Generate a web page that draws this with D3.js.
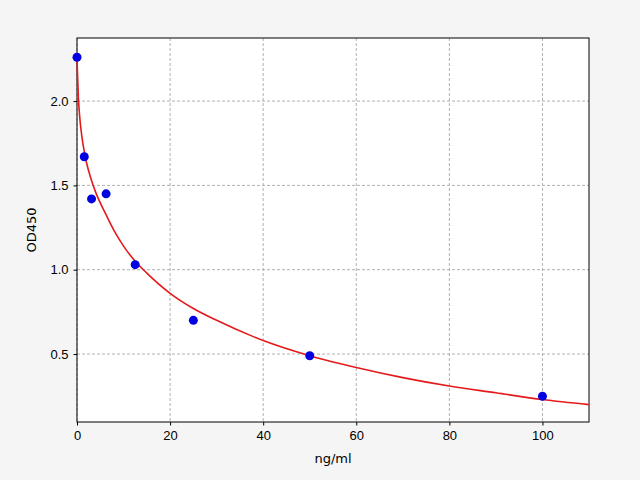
<!DOCTYPE html>
<html lang="en">
<head>
<meta charset="UTF-8">
<title>OD450 standard curve</title>
<style>
    body { margin: 0; background-color: #f5f5f5; }
    svg { display: block; font-family: "DejaVu Sans", sans-serif; }
</style>
</head>
<body>
<svg id="chart" width="640" height="480"></svg>
<script src="https://d3js.org/d3.v7.min.js"></script>
<script>
    // measured standards
    const conc = [0, 1.5625, 3.125, 6.25, 12.5, 25, 50, 100];
    const od = [2.26, 1.67, 1.42, 1.45, 1.03, 0.70, 0.49, 0.25];

    // fitted curve
    const fitX = [0, 0.3, 0.6, 1, 1.5, 2, 3, 4, 6, 8, 10, 12.5, 15, 20, 25, 30, 40, 50, 60, 70, 80, 90, 100, 110];
    const fitY = [2.24, 2.02, 1.9, 1.8, 1.71, 1.64, 1.54, 1.46, 1.34, 1.23, 1.14, 1.05, 0.98, 0.86, 0.77, 0.70, 0.58, 0.49, 0.42, 0.36, 0.31, 0.27, 0.23, 0.20];

    const xTicks = [0, 20, 40, 60, 80, 100];
    const yTicks = [0.5, 1.0, 1.5, 2.0];

    const pLeft = 77, pRight = 589, pTop = 38, pBottom = 422;
    const svg = d3.select('#chart');

    const x = d3.scaleLinear().domain([0, 110]).range([pLeft, pRight]);
    const y = d3.scaleLinear().domain([0.097, 2.374]).range([pBottom, pTop]);

    svg.append('rect').attr('x', pLeft).attr('y', pTop)
        .attr('width', pRight - pLeft).attr('height', pBottom - pTop).attr('fill', 'white');

    // grid
    svg.append('g').selectAll('line').data(xTicks).enter().append('line')
        .attr('x1', d => x(d)).attr('x2', d => x(d)).attr('y1', pTop).attr('y2', pBottom)
        .attr('stroke', '#b0b0b0').attr('stroke-dasharray', '3,2');
    svg.append('g').selectAll('line').data(yTicks).enter().append('line')
        .attr('y1', d => y(d)).attr('y2', d => y(d)).attr('x1', pLeft).attr('x2', pRight)
        .attr('stroke', '#b0b0b0').attr('stroke-dasharray', '3,2');

    // axes
    const xAxis = svg.append('g').attr('transform', `translate(0,${pBottom})`)
        .call(d3.axisBottom(x).tickValues(xTicks).tickSize(3.5).tickPadding(5).tickFormat(d3.format('d')));
    const yAxis = svg.append('g').attr('transform', `translate(${pLeft},0)`)
        .call(d3.axisLeft(y).tickValues(yTicks).tickSize(3.5).tickPadding(5).tickFormat(d3.format('.1f')));
    [xAxis, yAxis].forEach(a => {
        a.selectAll('text').attr('font-size', 13).attr('fill', 'black');
        a.select('.domain').remove();
    });

    svg.append('rect').attr('x', pLeft).attr('y', pTop)
        .attr('width', pRight - pLeft).attr('height', pBottom - pTop)
        .attr('fill', 'none').attr('stroke', 'black').attr('stroke-width', 1);

    // curve
    const line = d3.line().x((d, i) => x(fitX[i])).y(d => y(d)).curve(d3.curveMonotoneX);
    svg.append('path').datum(fitY).attr('d', line)
        .attr('fill', 'none').attr('stroke', '#e41a1c').attr('stroke-width', 1.6);

    // points
    svg.append('g').selectAll('circle').data(conc).enter().append('circle')
        .attr('cx', d => x(d)).attr('cy', (d, i) => y(od[i])).attr('r', 4.5)
        .attr('fill', '#0000e0');

    svg.append('text').attr('x', (pLeft + pRight) / 2).attr('y', 463)
        .attr('text-anchor', 'middle').attr('font-size', 13).text('ng/ml');
    svg.append('text').attr('transform', `translate(36,${(pTop + pBottom) / 2}) rotate(-90)`)
        .attr('text-anchor', 'middle').attr('font-size', 13).text('OD450');
</script>
</body>
</html>
